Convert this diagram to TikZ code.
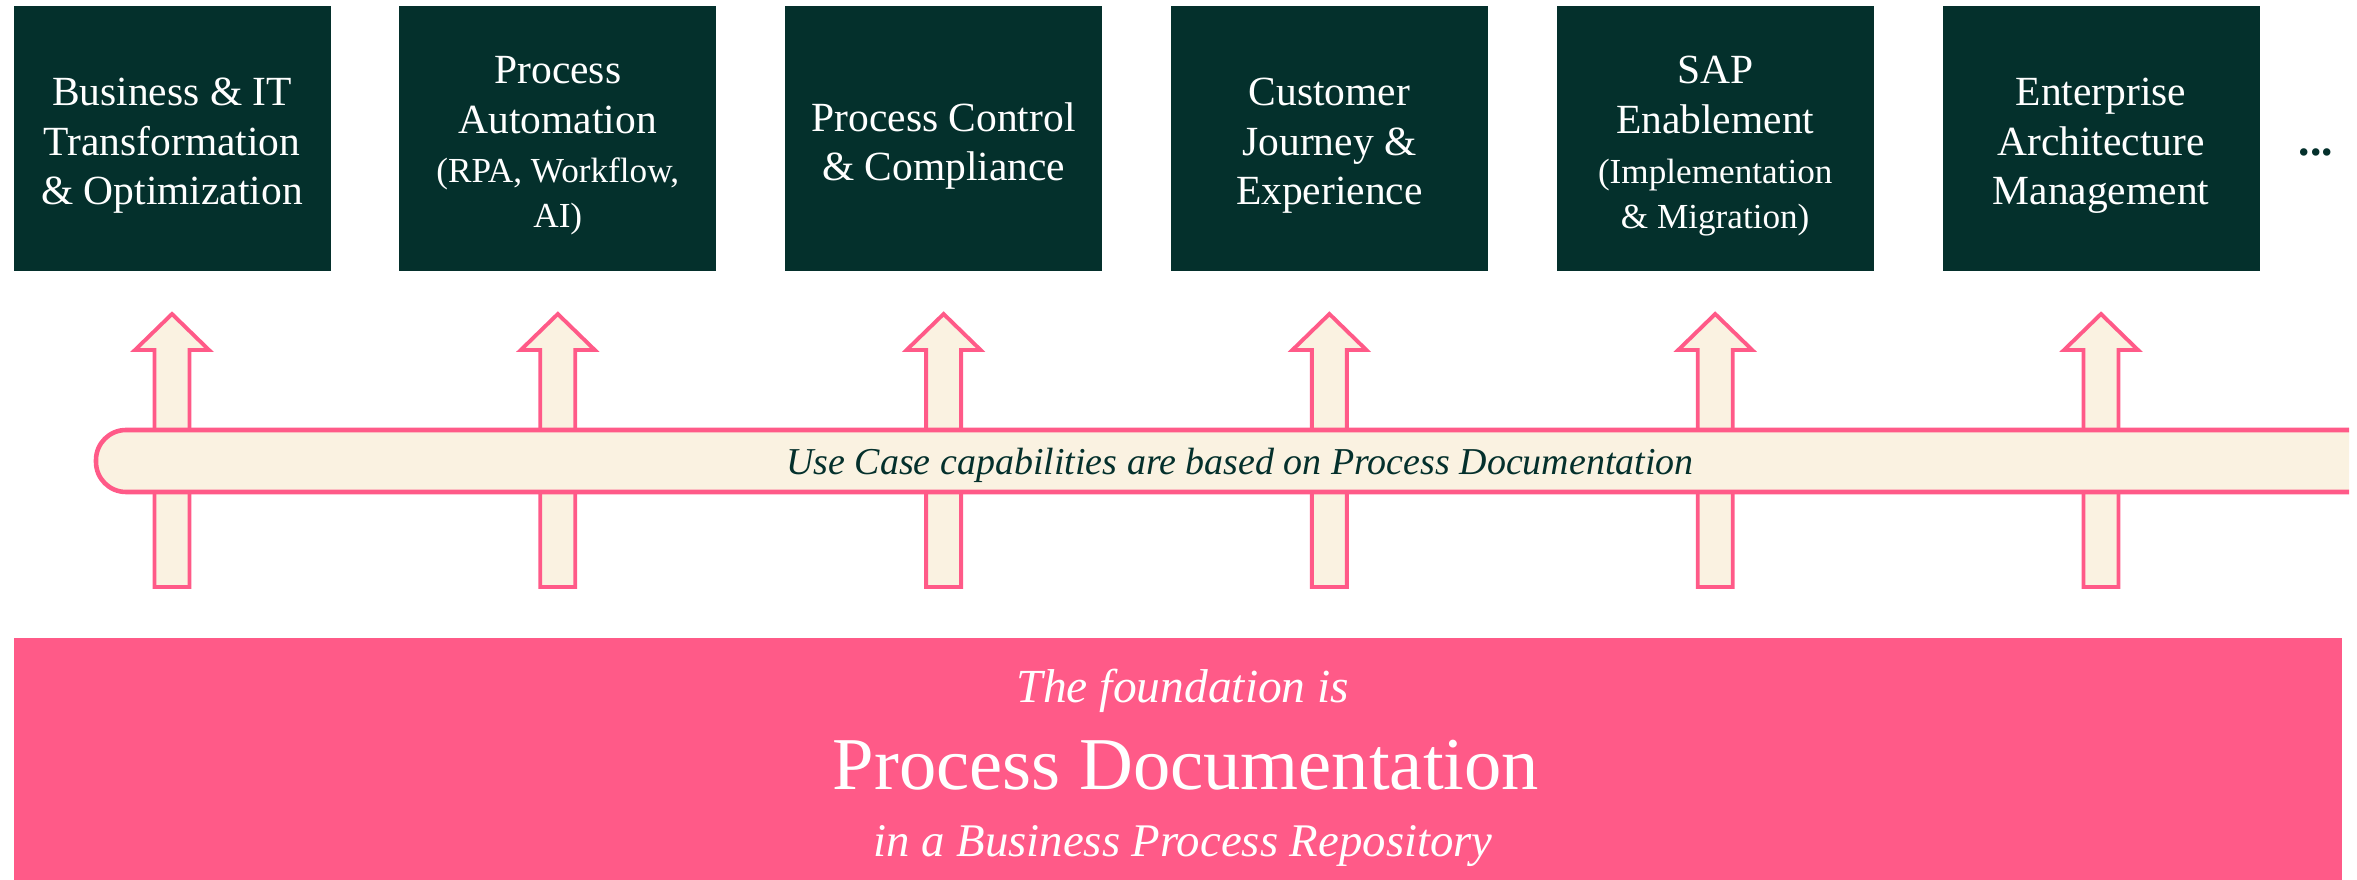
\documentclass[tikz,border=0pt]{standalone}
\usepackage{fontspec}
\setmainfont{Liberation Serif}
\definecolor{dkgreen}{HTML}{04302C}
\definecolor{pinkc}{HTML}{FF5A88}
\definecolor{creamc}{HTML}{FAF2E1}
\begin{document}
\begin{tikzpicture}[x=0.01cm,y=-0.01cm,
  usebox/.style={fill=dkgreen,text=white,minimum width=3.17cm,minimum height=2.65cm,inner sep=0pt,align=center,font=\fontsize{11.8}{14.1}\selectfont},
  uparrow/.style={fill=creamc,draw=pinkc,line width=1.1pt,line join=miter}]
\useasboundingbox (0,0) rectangle (2357,880);
% boxes
\foreach \i/\t in {0/{Business \& IT\\Transformation\\\& Optimization},
                   1/{Process\\Automation\\{\fontsize{10}{13}\selectfont (RPA, Workflow,}\\[-1.3pt]{\fontsize{10}{13}\selectfont AI)}},
                   2/{Process Control\\\& Compliance},
                   3/{Customer\\Journey \&\\Experience},
                   4/{SAP\\Enablement\\{\fontsize{10}{13}\selectfont (Implementation}\\[-1.3pt]{\fontsize{10}{13}\selectfont \& Migration)}},
                   5/{Enterprise\\Architecture\\Management}}{
  \pgfmathsetmacro{\cx}{172+385.8*\i}
  \fill[dkgreen] (\cx-158.5,6) rectangle (\cx+158.5,271);
  \node[usebox,fill=none] (box\i) at (\cx,146) {\t};
  \draw[uparrow] (\cx-17.5,587) -- (\cx-17.5,350) -- (\cx-37,350) -- (\cx,314) -- (\cx+37,350) -- (\cx+17.5,350) -- (\cx+17.5,587) -- cycle;
}
\node[anchor=base,text=dkgreen,font=\fontsize{13}{15}\bfseries] (dots) at (2316,156) {...};
% band
\begin{scope}
  \clip (0,0) rectangle (2349,880);
  \draw[fill=creamc,draw=pinkc,line width=1.3pt,rounded corners=0.3cm] (96,430) rectangle (2420,492);
\end{scope}
\node[text=dkgreen,font=\fontsize{10.8}{13}\itshape] (band) at (1240,465) {Use Case capabilities are based on Process Documentation};
% foundation
\fill[pinkc] (13.5,638) rectangle (2342,880);
\node[text=white,font=\fontsize{13.5}{16}\itshape,anchor=base] (f1) at (1183,703) {The foundation is};
\node[text=white,font=\fontsize{21.2}{25}\selectfont,anchor=base] (f2) at (1186,790) {Process Documentation};
\node[text=white,font=\fontsize{13.3}{16}\itshape,anchor=base] (f3) at (1183,857) {in a Business Process Repository};
\end{tikzpicture}
\end{document}
